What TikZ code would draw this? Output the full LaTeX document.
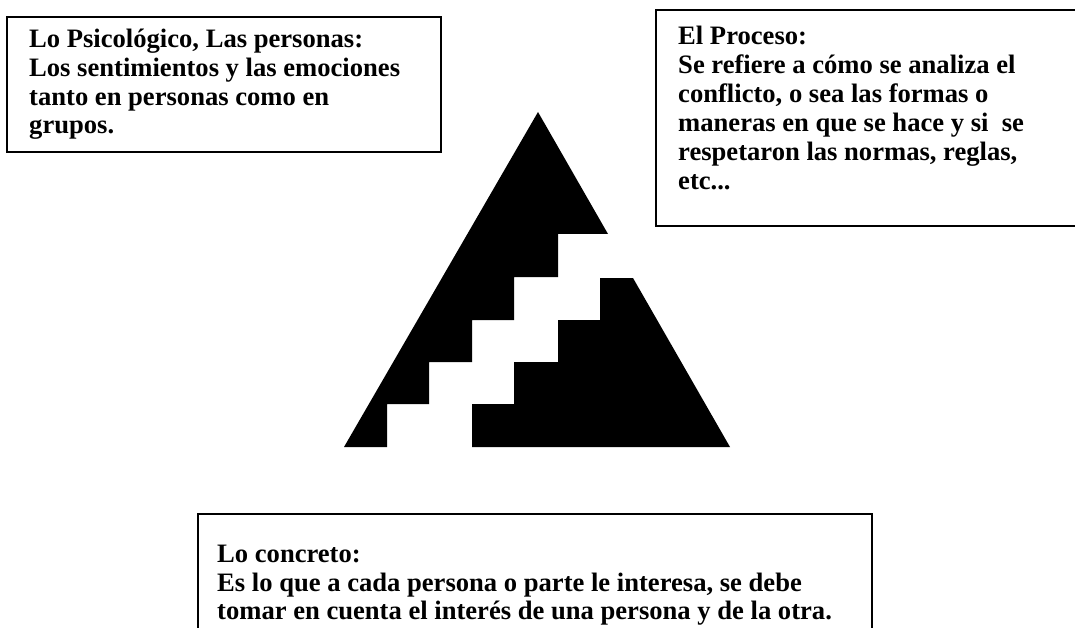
\documentclass[tikz,border=0pt]{standalone}
\usepackage{fontspec}
\setmainfont{Liberation Serif}
\begin{document}
\begin{tikzpicture}[x=1pt,y=-1pt,
  boxline/.style={draw=black,line width=2pt},
  txt/.style={anchor=base west,inner sep=0pt,font=\fontsize{26.6}{28.8}\selectfont\bfseries},
  blackpart/.style={fill=black,draw=none}]
\useasboundingbox (0,0) rectangle (1075,628);
\clip (0,0) rectangle (1075,628);
% boxes
\draw[boxline] (7,17) rectangle (441,152);
\draw[boxline] (656,10) rectangle (1090,226);
\draw[boxline] (198,514) rectangle (872,650);
% box 1 text
\node[txt] (a1) at (29,48) {Lo Psicológico, Las personas:};
\node[txt] (a2) at (29,76.7) {Los sentimientos y las emociones};
\node[txt] (a3) at (29,105.4) {tanto en personas como en};
\node[txt] (a4) at (29,134) {grupos.};
% box 2 text
\node[txt] (b1) at (678,45) {El Proceso:};
\node[txt] (b2) at (678,74) {Se refiere a cómo se analiza el};
\node[txt] (b3) at (678,103) {conflicto, o sea las formas o};
\node[txt] (b4) at (678,132) {maneras en que se hace y si\ \ se};
\node[txt] (b5) at (678,161) {respetaron las normas, reglas,};
\node[txt] (b6) at (678,190) {etc...};
% box 3 text
\node[txt] (c1) at (217,562) {Lo concreto:};
\node[txt] (c2) at (217,591) {Es lo que a cada persona o parte le interesa, se debe};
\node[txt] (c3) at (217,619.5) {tomar en cuenta el interés de una persona y de la otra.};
% triangle with stairs
\fill[blackpart] (538,112) -- (608,234) -- (558,234) -- (558,277) -- (514,277) -- (514,320)
  -- (472,320) -- (472,362) -- (429,362) -- (429,404) -- (387,404) -- (387,447)
  -- (344,447) -- cycle;
\fill[blackpart] (600,278) -- (633,278) -- (730,447) -- (472,447) -- (472,404) -- (514,404)
  -- (514,362) -- (558,362) -- (558,320) -- (600,320) -- cycle;
\end{tikzpicture}
\end{document}
